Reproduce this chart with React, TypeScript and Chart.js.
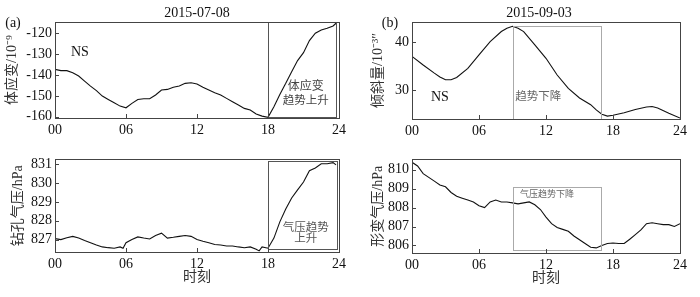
import React, { useEffect, useRef } from "react";
import { Chart, registerables } from "chart.js";
Chart.register(...registerables);

// ---- data ----
const hoursA = [0,0.5,1,1.5,2,2.5,3,3.5,4,4.5,5,5.5,6,6.5,7,7.5,8,8.5,9,9.5,10,10.5,11,11.5,12,12.5,13,13.5,14,14.5,15,15.5,16,16.5,17,17.5,18,18.5,19,19.5,20,20.5,21,21.5,22,22.5,23,23.5,23.75];
const strainNS = [-137.3,-137.9,-137.9,-138.9,-140.5,-142.9,-145.3,-147.5,-150.1,-151.7,-153.3,-154.9,-155.7,-153.6,-151.7,-151.4,-151.4,-149.6,-147.2,-146.9,-145.9,-145.3,-144.0,-143.7,-144.3,-145.9,-147.2,-148.5,-149.6,-151.2,-152.8,-154.4,-156.0,-156.8,-158.7,-159.7,-160.3,-155.2,-149.3,-144.0,-138.4,-133.1,-129.3,-123.5,-120.0,-118.4,-117.6,-116.5,-115.2];

const hoursB = [0,1,2,2.5,3,3.5,4,5,6,7,8,8.5,9,9.5,10,11,12,13,14,15,16,16.5,17,17.5,18,19,20,21,21.5,22,23,24];
const tiltNS = [37.0,35.2,33.5,32.7,32.1,32.1,32.6,34.5,37.3,40.1,42.2,42.9,43.3,42.9,42.2,39.4,36.6,33.1,30.3,28.3,26.9,25.8,24.9,24.5,24.7,25.2,25.9,26.4,26.5,26.2,25.1,24.1];

const hoursC = [0,0.5,1,1.5,2,2.5,3,3.5,4,4.5,5,5.5,5.75,6,6.5,7,7.5,8,8.5,9,9.5,10,10.5,11,11.5,12,12.5,13,13.5,14,14.5,15,15.5,16,16.5,17,17.25,17.5,18,18.5,19,19.5,20,20.5,21,21.5,22,22.5,23,23.5,23.75];
const boreholePressure = [827.05,827.0,827.1,827.17,827.08,826.95,826.83,826.71,826.61,826.57,826.54,826.61,826.54,826.83,827.0,827.14,827.08,827.03,827.22,827.34,827.08,827.12,827.17,827.22,827.17,827.0,826.91,826.83,826.74,826.71,826.66,826.66,826.61,826.57,826.61,826.49,826.4,826.61,826.54,827.08,827.94,828.62,829.21,829.64,830.06,830.66,830.8,831.03,831.03,831.09,830.97];

const hoursD = [0,0.5,1,1.5,2,2.5,3,3.5,4,4.5,5,5.5,6,6.5,7,7.5,8,8.5,9,9.5,10,10.5,11,11.5,12,12.5,13,13.5,14,14.5,15,15.5,16,16.5,17,17.5,18,18.5,19,19.5,20,20.5,21,21.5,22,22.5,23,23.5,24];
const deformPressure = [810.4,810.2,809.8,809.6,809.4,809.2,809.1,808.8,808.6,808.5,808.4,808.3,808.1,808.0,808.3,808.4,808.3,808.3,808.25,808.2,808.25,808.3,808.15,807.9,807.5,807.15,806.95,806.85,806.75,806.5,806.3,806.1,805.9,805.87,806.0,806.1,806.13,806.1,806.1,806.33,806.57,806.82,807.15,807.2,807.15,807.1,807.1,807.0,807.15];

const xTicks = [0, 6, 12, 18, 24];
const yTicksA = [-160, -150, -140, -130, -120];
const yTicksB = [30, 40];
const yTicksC = [827, 828, 829, 830, 831];
const yTicksD = [806, 807, 808, 809, 810];

// annotation boxes in data units: [x0, x1, y0, y1]
const boxA = [18, 23.75, -160.5, -114.8];
const boxB = [9, 16.9, 23.9, 43.4];
const boxC = [18, 23.8, 826.55, 831.2];
const boxD = [9, 16.9, 805.75, 809.1];

const FONT = "'Liberation Serif', 'Noto Sans CJK SC', serif";

type Label = { text: string; x: number; y: number; size: number; color: string };

type PanelCfg = {
  left: number; top: number; w: number; h: number;
  pad: { left: number; top: number; right: number; bottom: number };
  yWidth: number; xHeight: number; yTitlePad: number;
  xs: number[]; ys: number[]; yMin: number; yMax: number; yTicks: number[];
  yTitle: string; xTitle?: string;
  box: number[]; boxColor: string;
  labels: Label[];
  title?: { text: string; x: number; y: number };
  tag: { text: string; x: number; y: number };
};

const panels: PanelCfg[] = [
  {
    left: 0, top: 0, w: 350, h: 148,
    pad: { left: 0, top: 22, right: 10, bottom: 8 }, yWidth: 55, xHeight: 22, yTitlePad: 4,
    xs: hoursA, ys: strainNS, yMin: -160.6, yMax: -114.6, yTicks: yTicksA,
    yTitle: "体应变/10⁻⁹", box: boxA, boxColor: "#555",
    labels: [
      { text: "NS", x: 2.1, y: -129, size: 14, color: "#111" },
      { text: "体应变", x: 21.2, y: -145.8, size: 12, color: "#444" },
      { text: "趋势上升", x: 21.2, y: -152.5, size: 11.5, color: "#444" },
    ],
    title: { text: "2015-07-08", x: 197, y: 13 },
    tag: { text: "(a)", x: 13, y: 23 },
  },
  {
    left: 350, top: 0, w: 350, h: 148,
    pad: { left: 0, top: 22, right: 20, bottom: 7 }, yWidth: 62, xHeight: 22, yTitlePad: 20,
    xs: hoursB, ys: tiltNS, yMin: 23.9, yMax: 44.2, yTicks: yTicksB,
    yTitle: "倾斜量/10⁻³″", box: boxB, boxColor: "#aaa",
    labels: [
      { text: "NS", x: 2.5, y: 28.5, size: 14, color: "#111" },
      { text: "趋势下降", x: 11.3, y: 28.5, size: 11.5, color: "#666" },
    ],
    title: { text: "2015-09-03", x: 189, y: 13 },
    tag: { text: "(b)", x: 40, y: 23 },
  },
  {
    left: 0, top: 148, w: 350, h: 149,
    pad: { left: 0, top: 9, right: 10, bottom: 9 }, yWidth: 55, xHeight: 36, yTitlePad: 10,
    xs: hoursC, ys: boreholePressure, yMin: 826.34, yMax: 831.26, yTicks: yTicksC,
    yTitle: "钻孔气压/hPa", xTitle: "时刻", box: boxC, boxColor: "#555",
    labels: [
      { text: "气压趋势", x: 21.2, y: 827.64, size: 11.5, color: "#555" },
      { text: "上升", x: 21.2, y: 827.02, size: 11.5, color: "#555" },
    ],
    tag: { text: "", x: 0, y: 0 },
  },
  {
    left: 350, top: 148, w: 350, h: 149,
    pad: { left: 0, top: 7, right: 20, bottom: 8 }, yWidth: 62, xHeight: 36, yTitlePad: 20,
    xs: hoursD, ys: deformPressure, yMin: 805.6, yMax: 810.55, yTicks: yTicksD,
    yTitle: "形变气压/hPa", xTitle: "时刻", box: boxD, boxColor: "#aaa",
    labels: [
      { text: "气压趋势下降", x: 12.1, y: 808.7, size: 9, color: "#666" },
    ],
    tag: { text: "", x: 0, y: 0 },
  },
];

function Panel({ cfg }: { cfg: PanelCfg }) {
  const ref = useRef<HTMLCanvasElement | null>(null);
  useEffect(() => {
    if (!ref.current) return;
    const decor = {
      id: "decor",
      afterDatasetsDraw(chart: any) {
        const { ctx, chartArea: a, scales } = chart;
        const xs = scales.x, ys = scales.y;
        ctx.save();
        // box annotation
        const [bx0, bx1, by0, by1] = cfg.box;
        const px0 = xs.getPixelForValue(bx0), px1 = xs.getPixelForValue(bx1);
        const py0 = ys.getPixelForValue(by0), py1 = ys.getPixelForValue(by1);
        ctx.strokeStyle = cfg.boxColor;
        ctx.lineWidth = 1;
        ctx.strokeRect(Math.round(px0) + 0.5, Math.round(py1) + 0.5, Math.round(px1 - px0), Math.round(py0 - py1));
        // frame
        ctx.strokeStyle = "#444";
        ctx.lineWidth = 1;
        ctx.strokeRect(Math.round(a.left) + 0.5, Math.round(a.top) + 0.5, Math.round(a.right - a.left), Math.round(a.bottom - a.top));
        // inward ticks
        ctx.beginPath();
        for (const v of cfg.yTicks) {
          const y = Math.round(ys.getPixelForValue(v)) + 0.5;
          ctx.moveTo(a.left, y); ctx.lineTo(a.left + 4, y);
        }
        for (const v of xTicks) {
          const x = Math.round(xs.getPixelForValue(v)) + 0.5;
          ctx.moveTo(x, a.bottom); ctx.lineTo(x, a.bottom - 4);
        }
        ctx.stroke();
        // labels
        ctx.textAlign = "center";
        ctx.textBaseline = "middle";
        for (const l of cfg.labels) {
          ctx.fillStyle = l.color;
          ctx.font = `${l.size}px ${FONT}`;
          ctx.fillText(l.text, xs.getPixelForValue(l.x), ys.getPixelForValue(l.y));
        }
        ctx.fillStyle = "#111";
        ctx.font = `14px ${FONT}`;
        if (cfg.title) ctx.fillText(cfg.title.text, cfg.title.x, cfg.title.y);
        if (cfg.tag.text) ctx.fillText(cfg.tag.text, cfg.tag.x, cfg.tag.y);
        ctx.restore();
      },
    };
    const chart = new Chart(ref.current, {
      type: "line",
      data: {
        datasets: [{
          data: cfg.xs.map((x, i) => ({ x, y: cfg.ys[i] })),
          borderColor: "#111",
          borderWidth: 1.1,
          pointRadius: 0,
          tension: 0,
          fill: false,
        }],
      },
      options: {
        animation: false,
        responsive: false,
        events: [],
        layout: { padding: cfg.pad },
        plugins: { legend: { display: false }, tooltip: { enabled: false } },
        scales: {
          x: {
            type: "linear", min: 0, max: 24,
            afterFit: (s: any) => { s.height = cfg.xHeight; },
            afterBuildTicks: (s: any) => { s.ticks = xTicks.map((v) => ({ value: v })); },
            grid: { display: false, drawTicks: false },
            border: { display: false },
            ticks: {
              padding: 4, color: "#111", font: { family: FONT, size: 14 },
              maxRotation: 0, autoSkip: false,
              callback: (v: any) => String(v).padStart(2, "0"),
            },
            title: cfg.xTitle ? { display: true, text: cfg.xTitle, color: "#333", font: { family: FONT, size: 14 }, padding: { top: 0, bottom: 2 } } : { display: false },
          },
          y: {
            type: "linear", min: cfg.yMin, max: cfg.yMax,
            afterFit: (s: any) => { s.width = cfg.yWidth; },
            afterBuildTicks: (s: any) => { s.ticks = cfg.yTicks.map((v) => ({ value: v })); },
            grid: { display: false, drawTicks: false },
            border: { display: false },
            ticks: {
              padding: 3, color: "#111", font: { family: FONT, size: 14 },
              autoSkip: false,
              callback: (v: any) => String(v),
            },
            title: { display: true, text: cfg.yTitle, color: "#333", font: { family: FONT, size: 14 }, padding: { top: cfg.yTitlePad, bottom: 0 } },
          },
        },
      },
      plugins: [decor],
    });
    return () => chart.destroy();
  }, [cfg]);
  return (
    <canvas
      ref={ref}
      width={cfg.w}
      height={cfg.h}
      style={{ position: "absolute", left: cfg.left, top: cfg.top, width: cfg.w, height: cfg.h }}
    />
  );
}

export default function App() {
  return (
    <div style={{ position: "fixed", left: 0, top: 0, width: 700, height: 297, background: "#fff" }}>
      {panels.map((p, i) => <Panel key={i} cfg={p} />)}
    </div>
  );
}
